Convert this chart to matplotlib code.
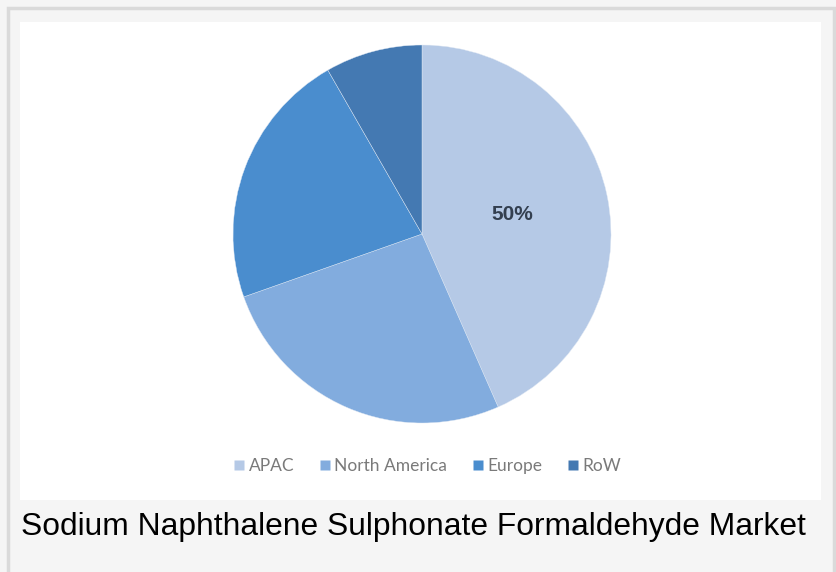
import matplotlib
matplotlib.use("Agg")
import matplotlib.pyplot as plt
from matplotlib.patches import Rectangle
from matplotlib.lines import Line2D

# shares (the chart itself labels APAC as 50%)
regions = ["APAC", "North America", "Europe", "RoW"]
shares = [43.4, 26.2, 22.1, 8.3]
wedge_labels = ["50%", "", "", ""]
colors = ["#b5c9e6", "#82acde", "#4a8dce", "#4479b2"]
caption = "Sodium Naphthalene Sulphonate Formaldehyde Market"

W, H = 836, 572
fig = plt.figure(figsize=(W / 100, H / 100), dpi=100)
fig.patch.set_facecolor("#f5f5f5")

def px_rect(x0, y0, x1, y1, **kw):
    # rectangle given in pixel coords measured from the top-left corner
    return Rectangle((x0 / W, 1 - y1 / H), (x1 - x0) / W, (y1 - y0) / H,
                     transform=fig.transFigure, zorder=-5, **kw)

# outer frame and white panel
fig.patches.append(px_rect(7.5, 7.5, 834, 580, fill=False, edgecolor="#dadada", linewidth=2.5))
fig.patches.append(px_rect(20, 22, 821, 500, facecolor="white", edgecolor="none"))

cx, cy, r = 422, 234, 189
ax = fig.add_axes([(cx - r) / W, 1 - (cy + r) / H, 2 * r / W, 2 * r / H])
ax.set_zorder(2)
ax.set_aspect("equal")
ax.axis("off")

lab_iter = iter(wedge_labels)
wedges, texts, autotexts = ax.pie(shares, colors=colors, startangle=90, counterclock=False,
                                  radius=1.0, autopct=lambda p: next(lab_iter), pctdistance=0.49,
                                  wedgeprops=dict(linewidth=0.3, edgecolor="#dfe8f4"),
                                  textprops=dict(fontsize=15, fontweight="bold", color="#333f50",
                                                 family="Liberation Sans"))
ax.set_xlim(-1, 1)
ax.set_ylim(-1, 1)

handles = [Line2D([], [], marker="s", linestyle="none", markersize=6.5,
                  markerfacecolor=c, markeredgecolor="none") for c in colors]
leg = fig.legend(handles, regions, loc="center", bbox_to_anchor=(428 / W, 1 - 466 / H),
                 ncol=4, frameon=False, handlelength=0.5, handletextpad=0.3, columnspacing=1.5,
                 prop=dict(family="Lato", size=12.5), labelcolor="#7a7a7a")
leg.set_zorder(3)

fig.text(21 / W, 1 - 535 / H, caption, ha="left", va="baseline",
         fontsize=22.9, family="Liberation Sans", color="black")

fig.savefig("out.png", dpi=100, facecolor=fig.get_facecolor())
